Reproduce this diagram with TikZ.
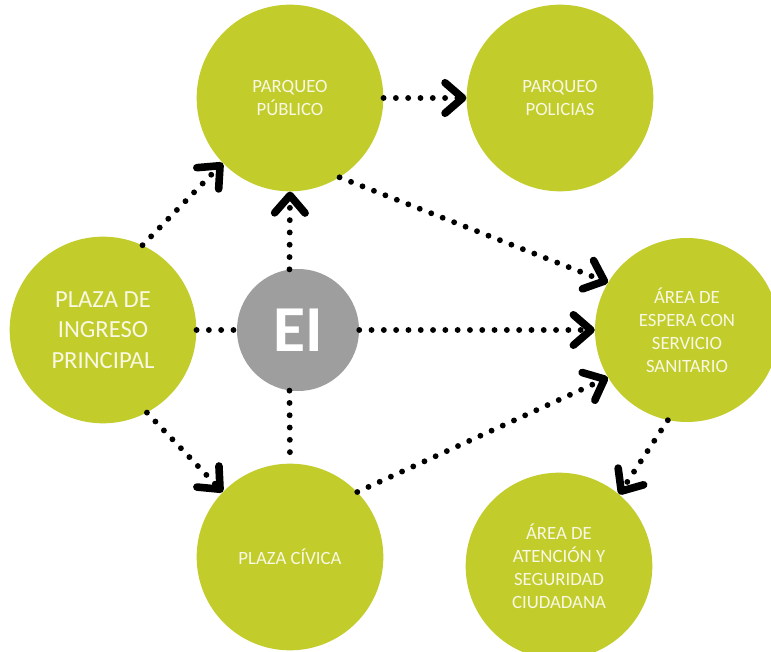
\documentclass[tikz,border=0pt]{standalone}
\usepackage{fontspec}
\setmainfont{Carlito}
\usetikzlibrary{arrows.meta}

\definecolor{verde}{RGB}{194,205,44}
\definecolor{gris}{RGB}{158,158,158}
\definecolor{crema}{RGB}{248,248,228}

\begin{document}
\begin{tikzpicture}[x=0.03cm, y=-0.03cm,
  zona/.style={circle, fill=verde, minimum size=5.6cm, inner sep=0pt,
    text=crema, align=center, font=\fontsize{16}{19.5}\selectfont},
  flujo/.style={line width=5pt, line cap=round, dash pattern=on 0pt off 10.5pt},
  flecha/.style={flujo, -{Straight Barb[length=15pt, width=26pt, line width=6.5pt, round]}}]

\useasboundingbox (0,0) rectangle (771,652);
\clip (0,0) rectangle (771,652);

% Zonas
\node[zona] (publico) at (290,98) {PARQUEO\\PÚBLICO};
\node[zona] (policias) at (560,98) {PARQUEO\\POLICIAS};
\node[zona, font=\fontsize{21}{26}\selectfont] (ingreso) at (103,330) {PLAZA DE\\INGRESO\\PRINCIPAL};
\node[zona, minimum size=5.52cm] (espera) at (687,330) {ÁREA DE\\ESPERA CON\\SERVICIO\\SANITARIO};
\node[zona] (civica) at (290,557) {PLAZA CÍVICA};
\node[zona] (atencion) at (559,566) {ÁREA DE\\ATENCIÓN Y\\SEGURIDAD\\CIUDADANA};

% EI
\node[circle, fill=gris, minimum size=3.66cm, inner sep=0pt, text=white,
  font=\fontsize{56}{56}\selectfont\bfseries] (ei) at (298,330) {EI};

% Recorridos
\draw[flecha] (ingreso.65) -- (publico.224);
\draw[flujo] (ingreso) -- (ei);
\draw[flecha] (ingreso.-62) -- (civica.136);

\draw[flecha] (ei.98) -- (publico.south);
\draw[flujo] (ei.262) -- (civica.north);
\draw[flecha] (ei) -- (espera);

\draw[flecha] (publico) -- (policias);
\draw[flecha] (publico.302) -- (espera.149);
\draw[flecha] (civica.44) -- (espera.211);

\draw[flecha] (espera.258) -- (atencion.50);

\end{tikzpicture}
\end{document}
